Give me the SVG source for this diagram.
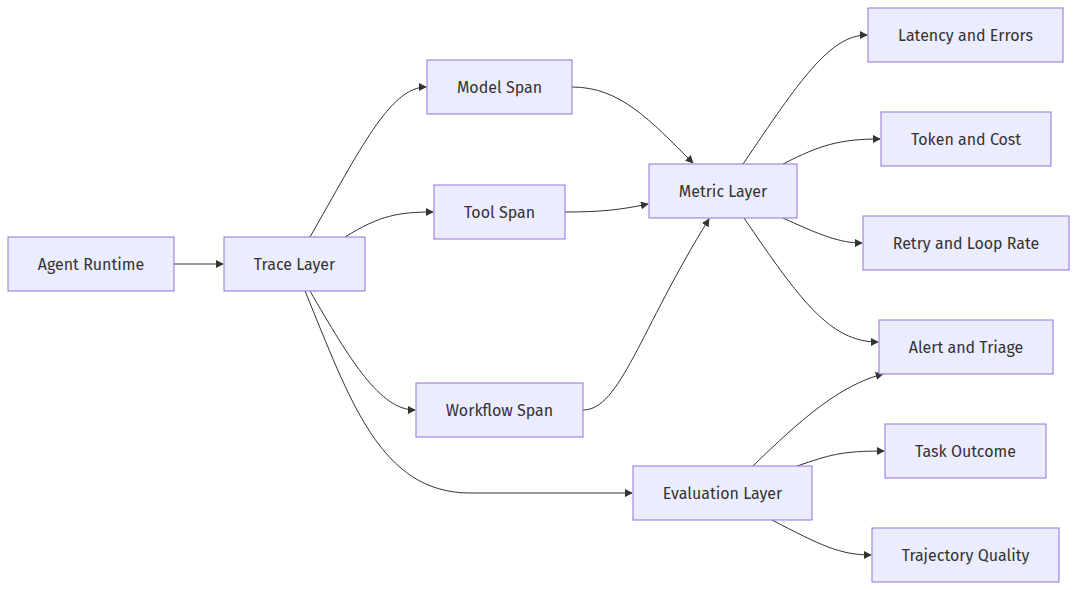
<svg xmlns="http://www.w3.org/2000/svg" width="1077" height="590" viewBox="0 0 1077 590">
<defs>
<marker id="ah" viewBox="0 0 10 10" refX="9" refY="5" markerWidth="8" markerHeight="8" orient="auto-start-reverse" markerUnits="userSpaceOnUse"><path d="M0,0 L10,5 L0,10 z" fill="#333"/></marker>
<style>
.n rect{fill:#ECECFF;stroke:#9370DB;stroke-width:1}
.n text{font-family:"Fira Sans","Open Sans","Liberation Sans",sans-serif;font-size:16px;fill:#333;text-anchor:middle;dominant-baseline:central}
.e path{fill:none;stroke:#333;stroke-width:1;marker-end:url(#ah)}
</style>
</defs>
<rect width="1077" height="590" fill="#fff"/>
<g id="edges" class="e">
<path d="M174,264 L223,264"/>
<path d="M310,237 C360,150 390,87 426,87"/>
<path d="M345,237 C380,215 400,212 433,212"/>
<path d="M310,291 C350,360 380,410 415,410"/>
<path d="M305,291 C350,400 380,493 470,493 L632,493"/>
<path d="M572,87 C620,87 650,120 693,163"/>
<path d="M565,212 C600,212 620,210 648,204"/>
<path d="M583,410 C620,410 640,330 709,219"/>
<path d="M743,164 C800,80 830,35 867,35"/>
<path d="M783,164 C820,145 840,139 880,139"/>
<path d="M783,218 C820,235 840,243 862,243"/>
<path d="M744,218 C800,300 830,342 878,342"/>
<path d="M753,466 C800,420 840,385 883,374"/>
<path d="M797,466 C830,455 840,451 884,451"/>
<path d="M772,520 C820,545 840,555 871,555"/>
</g>
<g id="agent" class="n"><rect x="8" y="237" width="166" height="54"/><text x="91" y="264">Agent Runtime</text></g>
<g id="trace" class="n"><rect x="224" y="237" width="141" height="54"/><text x="294.5" y="264">Trace Layer</text></g>
<g id="model" class="n"><rect x="427" y="60" width="145" height="54"/><text x="499.5" y="87">Model Span</text></g>
<g id="tool" class="n"><rect x="434" y="185" width="131" height="54"/><text x="499.5" y="212">Tool Span</text></g>
<g id="workflow" class="n"><rect x="416" y="383" width="167" height="54"/><text x="499.5" y="410">Workflow Span</text></g>
<g id="metric" class="n"><rect x="649" y="164" width="148" height="54"/><text x="723" y="191">Metric Layer</text></g>
<g id="evaluation" class="n"><rect x="633" y="466" width="179" height="54"/><text x="722.5" y="493">Evaluation Layer</text></g>
<g id="latency" class="n"><rect x="868" y="8" width="195" height="54"/><text x="965.5" y="35">Latency and Errors</text></g>
<g id="token" class="n"><rect x="881" y="112" width="170" height="54"/><text x="966" y="139">Token and Cost</text></g>
<g id="retry" class="n"><rect x="863" y="216" width="206" height="54"/><text x="966" y="243">Retry and Loop Rate</text></g>
<g id="alert" class="n"><rect x="879" y="320" width="174" height="54"/><text x="966" y="347">Alert and Triage</text></g>
<g id="task" class="n"><rect x="885" y="424" width="161" height="54"/><text x="965.5" y="451">Task Outcome</text></g>
<g id="trajectory" class="n"><rect x="872" y="528" width="187" height="54"/><text x="965.5" y="555">Trajectory Quality</text></g>
</svg>
